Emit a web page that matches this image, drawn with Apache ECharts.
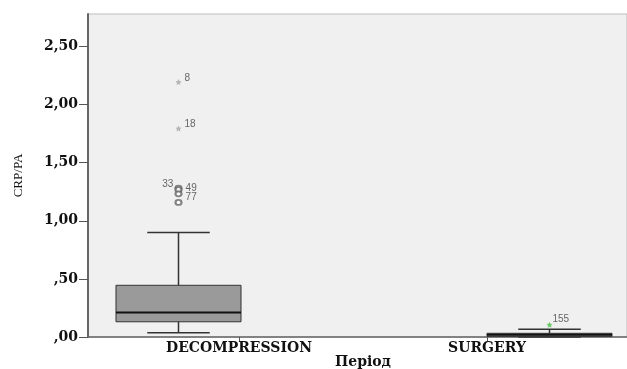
<!DOCTYPE html>
<html><head><meta charset="utf-8">
<script src="https://cdn.jsdelivr.net/npm/echarts@6/dist/echarts.min.js"></script>
<style>html,body{margin:0;padding:0;background:#fff}#c{width:627px;height:369px}</style>
</head><body><div id="c"></div>
<script>
// ---- data ----
const categories = ['DECOMPRESSION', 'SURGERY'];
// each row: [min, Q1, median, Q3, max]
const boxStats = [
  [0.037, 0.131, 0.211, 0.445, 0.899],
  [0.0, 0.005, 0.02, 0.032, 0.066]
];
// outliers (circles)
const outlierCategory = [0, 0, 0, 0];
const outlierValues = [1.282, 1.268, 1.232, 1.158];
const outlierCases = ['33', '49', '77', ''];
// extremes (stars)
const extremeCategory = [0, 0, 1];
const extremeValues = [2.194, 1.795, 0.105];
const extremeCases = ['8', '18', '155'];
const yTicks = [0, 0.5, 1, 1.5, 2, 2.5];
const yMax = 2.78;
const yAxisName = 'CRP/PA';
const xAxisName = 'Період';

// ---- styles ----
const BOX_FRAC = 0.337;
const CAP_FRAC = 0.5;
const labelStyles = {
  '33': {position: 'left', distance: 1, offset: [0, -4]},
  '49': {position: 'right', distance: 3, offset: [0, -1]},
  '77': {position: 'right', distance: 3, offset: [0, 3]},
  '': {show: false},
  '8': {position: 'right', distance: 3, offset: [0, -4]},
  '18': {position: 'right', distance: 3, offset: [0, -4]},
  '155': {position: 'right', distance: 3, offset: [-3, -6]}
};
const extremeColors = {'8': '#a8a8a8', '18': '#a8a8a8', '155': '#4cc24c'};
const STAR = 'path://M0,-10 L2.9,-4 9.5,-3.1 4.8,1.5 5.9,8.1 0,5 -5.9,8.1 -4.8,1.5 -9.5,-3.1 -2.9,-4Z';

const fmtY = v => v.toFixed(2).replace('.', ',').replace(/^0/, '');
const serifBold = {fontFamily: 'DejaVu Serif', fontWeight: 'bold', color: '#111'};

const chart = echarts.init(document.getElementById('c'), null, {renderer: 'canvas'});

const yBase = {type: 'value', min: 0, max: yMax, splitLine: {show: false}};

const option = {
  animation: false,
  backgroundColor: '#fff',
  grid: [
    {left: 88, right: 0, top: 14, bottom: 32, outerBoundsMode: 'none', containLabel: false, show: true, backgroundColor: '#f0f0f0', borderColor: '#bdbdbd', borderWidth: 1},
    {left: 115, right: 16, top: 14, bottom: 32, outerBoundsMode: 'none', containLabel: false},
    {left: -7, right: -108, top: 14, bottom: 32, outerBoundsMode: 'none', containLabel: false}
  ],
  xAxis: [
    {gridIndex: 0, type: 'category', data: categories,
      axisLine: {lineStyle: {color: '#666', width: 1.5}}, axisTick: {show: false}, axisLabel: {show: false}},
    {gridIndex: 1, type: 'category', data: categories,
      axisLine: {show: false},
      axisTick: {show: true, alignWithLabel: true, length: 4, lineStyle: {color: '#555'}},
      axisLabel: Object.assign({fontSize: 14, margin: 4}, serifBold),
      name: xAxisName, nameLocation: 'middle', nameGap: 18, nameMoveOverlap: false,
      nameTextStyle: Object.assign({fontSize: 14}, serifBold)},
    {gridIndex: 2, type: 'category', data: categories, show: false}
  ],
  yAxis: [
    Object.assign({gridIndex: 0,
      axisLine: {show: true, lineStyle: {color: '#666', width: 2}},
      axisTick: {show: true, length: 9, customValues: yTicks, lineStyle: {color: '#555'}},
      axisLabel: Object.assign({fontSize: 14, margin: 10, formatter: fmtY, customValues: yTicks}, serifBold),
      name: yAxisName, nameLocation: 'middle', nameGap: 63, nameMoveOverlap: false,
      nameTextStyle: {fontFamily: 'Liberation Serif', fontSize: 13, color: '#111'}}, yBase),
    Object.assign({gridIndex: 1, show: false}, yBase),
    Object.assign({gridIndex: 2, show: false}, yBase)
  ],
  series: [
    {
      type: 'custom', xAxisIndex: 2, yAxisIndex: 2,
      encode: {x: 0, y: [1, 2, 3, 4, 5]},
      data: boxStats.map((s, i) => [i].concat(s)),
      renderItem: function (params, api) {
        const c = api.value(0);
        const pMin = api.coord([c, api.value(1)]);
        const pQ1 = api.coord([c, api.value(2)]);
        const pMed = api.coord([c, api.value(3)]);
        const pQ3 = api.coord([c, api.value(4)]);
        const pMax = api.coord([c, api.value(5)]);
        const band = api.size([1, 0])[0];
        const bw = band * BOX_FRAC, hw = bw / 2, cw = bw * CAP_FRAC / 2;
        const x = pMed[0];
        const ws = {stroke: '#333', lineWidth: 1.5};
        return {type: 'group', children: [
          {type: 'line', shape: {x1: x, y1: pMax[1], x2: x, y2: pQ3[1]}, style: ws},
          {type: 'line', shape: {x1: x, y1: pQ1[1], x2: x, y2: pMin[1]}, style: ws},
          {type: 'line', shape: {x1: x - cw, y1: pMax[1], x2: x + cw, y2: pMax[1]}, style: ws},
          {type: 'line', shape: {x1: x - cw, y1: pMin[1], x2: x + cw, y2: pMin[1]}, style: ws},
          {type: 'rect', shape: {x: x - hw, y: pQ3[1], width: bw, height: pQ1[1] - pQ3[1]},
            style: {fill: '#9a9a9a', stroke: '#333', lineWidth: 1}},
          {type: 'line', shape: {x1: x - hw, y1: pMed[1], x2: x + hw, y2: pMed[1]}, style: {stroke: '#111', lineWidth: 2}}
        ]};
      }
    },
    {
      type: 'scatter', xAxisIndex: 2, yAxisIndex: 2,
      symbol: 'emptyCircle', symbolSize: [6, 5],
      itemStyle: {color: '#666', borderColor: '#555', borderWidth: 1.5},
      data: outlierValues.map((v, i) => ({
        value: [outlierCategory[i], v],
        label: Object.assign({show: true, formatter: outlierCases[i], fontFamily: 'Liberation Sans', fontSize: 10, color: '#444'}, labelStyles[outlierCases[i]])
      }))
    },
    {
      type: 'scatter', xAxisIndex: 2, yAxisIndex: 2,
      symbol: STAR, symbolSize: 6,
      data: extremeValues.map((v, i) => ({
        value: [extremeCategory[i], v],
        itemStyle: {color: extremeColors[extremeCases[i]]},
        label: Object.assign({show: true, formatter: extremeCases[i], fontFamily: 'Liberation Sans', fontSize: 10, color: '#444'}, labelStyles[extremeCases[i]])
      }))
    }
  ]
};
chart.setOption(option);
</script>
</body></html>
